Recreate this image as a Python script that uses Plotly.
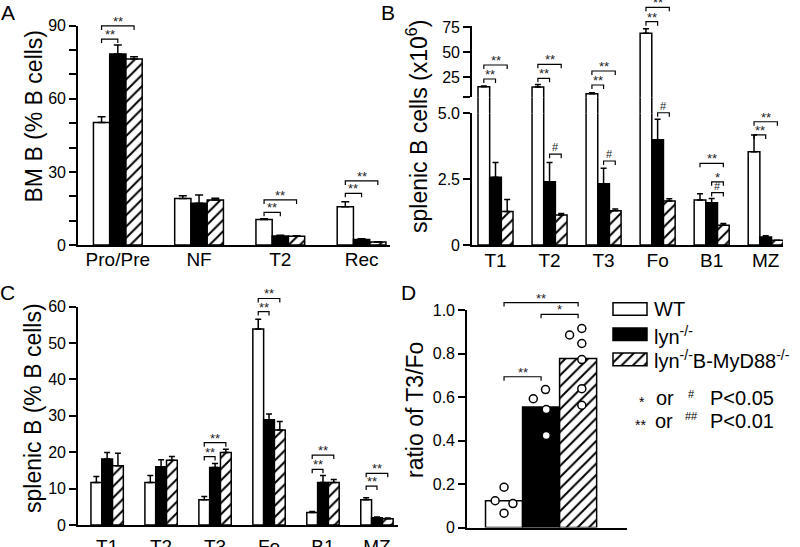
import plotly.graph_objects as go

W, H = 800, 547
FONT = "Liberation Sans, Arial, Helvetica, sans-serif"

series = ["WT", "lyn-/-", "lyn-/-B-MyD88-/-"]

# ---------------- Panel A : BM B (% B cells)
a_cats = ["Pro/Pre", "NF", "T2", "Rec"]
a_wt = [50.3, 19.1, 10.5, 15.7]
a_wt_err = [2.3, 1.1, 0.3, 2.1]
a_lyn = [78.4, 17.1, 3.7, 2.3]
a_lyn_err = [3.7, 3.4, 0.3, 0.3]
a_dko = [76.3, 18.5, 3.6, 1.2]
a_dko_err = [1.0, 0.7, 0.2, 0.1]
a_tickvals = [0, 10, 20, 30, 40, 50, 60, 70, 80, 90]
a_ticktext = ["0", "", "", "30", "", "", "60", "", "", "90"]

# ---------------- Panel B : splenic B cells (x10^6)
b_cats = ["T1", "T2", "T3", "Fo", "B1", "MZ"]
b_wt = [15.5, 15.3, 8.6, 69.0, 1.71, 3.54]
b_wt_err = [0.8, 2.5, 1.0, 4.6, 0.24, 0.64]
b_lyn = [2.57, 2.40, 2.33, 4.00, 1.60, 0.30]
b_lyn_err = [0.56, 0.73, 0.58, 0.77, 0.17, 0.05]
b_dko = [1.27, 1.14, 1.30, 1.67, 0.75, 0.18]
b_dko_err = [0.46, 0.06, 0.07, 0.09, 0.07, 0.0]
b_low_tickvals = [0, 2.5, 5]
b_low_ticktext = ["0", "2.5", "5.0"]
b_high_tickvals = [5, 25, 50, 75]
b_high_ticktext = ["", "25", "50", "75"]

# ---------------- Panel C : splenic B (% B cells)
c_cats = ["T1", "T2", "T3", "Fo", "B1", "MZ"]
c_wt = [11.7, 11.7, 6.9, 53.8, 3.4, 6.9]
c_wt_err = [1.6, 1.9, 0.9, 2.7, 0.3, 0.6]
c_lyn = [18.1, 16.0, 15.8, 28.9, 11.7, 2.0]
c_lyn_err = [1.8, 1.9, 1.1, 1.6, 1.9, 0.2]
c_dko = [16.3, 17.8, 19.9, 26.1, 11.7, 1.7]
c_dko_err = [3.4, 1.0, 0.9, 2.3, 0.8, 0.2]
c_tickvals = [0, 10, 20, 30, 40, 50, 60]

# ---------------- Panel D : ratio of T3/Fo
d_means = [0.123, 0.554, 0.777]
d_points = [
    [0.185, 0.123, 0.110, 0.066],
    [0.592, 0.634, 0.542, 0.423],
    [0.885, 0.915, 0.846, 0.772, 0.638, 0.562],
]
d_jitter = [
    [0.0, -0.24, 0.24, 0.0],
    [-0.21, 0.12, 0.14, 0.14],
    [-0.23, 0.10, 0.10, 0.10, 0.10, 0.10],
]
d_tickvals = [0, 0.2, 0.4, 0.6, 0.8, 1.0]
d_ticktext = ["0", "0.2", "0.4", "0.6", "0.8", "1.0"]

# significance brackets: (category index, from series, to series, level, label)
sig_A = [(0, 0, 1, 84.5, "**"), (0, 0, 2, 89.9, "**"), (2, 0, 1, 13.4, "**"),
         (2, 0, 2, 18.5, "**"), (3, 0, 1, 21.2, "**"), (3, 0, 2, 26.3, "**")]
sig_B_high = [(0, 0, 1, 23.3, "**"), (0, 0, 2, 37.3, "**"), (1, 0, 1, 24.0, "**"),
              (1, 0, 2, 38.0, "**"), (2, 0, 1, 17.3, "**"), (2, 0, 2, 31.3, "**"),
              (3, 0, 1, 80.6, "**"), (3, 0, 2, 95.0, "**")]
sig_B_low = [(1, 1, 2, 3.45, "#"), (2, 1, 2, 3.19, "#"), (3, 1, 2, 5.02, "#"),
             (4, 0, 2, 3.10, "**"), (4, 1, 2, 2.40, "*"), (4, 1, 2, 1.99, "#"),
             (5, 0, 1, 4.18, "**"), (5, 0, 2, 4.68, "**")]
sig_C = [(2, 0, 1, 18.8, "**"), (2, 0, 2, 22.6, "**"), (3, 0, 1, 58.6, "**"),
         (3, 0, 2, 62.2, "**"), (4, 0, 1, 15.3, "**"), (4, 0, 2, 19.2, "**"),
         (5, 0, 1, 10.7, "**"), (5, 0, 2, 14.2, "**")]
sig_D = [(0, 2, 1.034, "**"), (1, 2, 0.98, "*"), (0, 1, 0.693, "**")]


def px_x(p):
    return p / W


def px_y(p):
    return 1 - p / H


# panel geometry (paper domains and axis ranges)
P = {
    "A": dict(x="x", y="y", xd=[px_x(78), px_x(390)], yd=[px_y(245), px_y(25.7)],
              xr=[-0.49, 3.35], yr=[0, 90], bw=0.2, cap=4, lab_off=-4),
    "Blow": dict(x="x2", y="y2", xd=[px_x(472), px_x(783)], yd=[px_y(245), px_y(113.3)],
                 xr=[-0.435, 5.32], yr=[0, 5], bw=0.216, cap=3, lab_off=-3),
    "Bgap": dict(x="x3", y="y3", xd=[px_x(472), px_x(783)], yd=[px_y(113.3), px_y(97.3)],
                 xr=[-0.435, 5.32], yr=[5, 6], bw=0.216, cap=3, lab_off=0),
    "Bhigh": dict(x="x4", y="y4", xd=[px_x(472), px_x(783)], yd=[px_y(97.3), px_y(25.7)],
                  xr=[-0.435, 5.32], yr=[5, 76.6], bw=0.216, cap=3, lab_off=0),
    "C": dict(x="x5", y="y5", xd=[px_x(78), px_x(398)], yd=[px_y(525), px_y(306.5)],
              xr=[-0.54, 5.39], yr=[0, 60], bw=0.2, cap=3, lab_off=3),
    "D": dict(x="x6", y="y6", xd=[px_x(467), px_x(627)], yd=[px_y(527.5), px_y(310)],
              xr=[-1.0, 3.32], yr=[0, 1.0], bw=1.0, cap=3, lab_off=0),
}


def to_paper(pn, xv, yv):
    g = P[pn]
    xd, yd, xr, yr = g["xd"], g["yd"], g["xr"], g["yr"]
    px = xd[0] + (xv - xr[0]) / (xr[1] - xr[0]) * (xd[1] - xd[0])
    py = yd[0] + (yv - yr[0]) / (yr[1] - yr[0]) * (yd[1] - yd[0])
    return px, py


LW = 1.5
STY = [
    dict(color="white", line=dict(color="black", width=LW)),
    dict(color="black", line=dict(color="black", width=LW)),
    dict(color="white", line=dict(color="black", width=LW),
         pattern=dict(shape="/", fgcolor="black", bgcolor="white", size=8,
                      solidity=0.25, fgopacity=1)),
]

fig = go.Figure()


def add_groups(pn, cats, vals, errs, show_err=True, only_above=False):
    g = P[pn]
    w = g["bw"]
    lo = g["yr"][0]
    for k in range(3):
        # for the upper (broken) axis segments keep only bars reaching into them
        keep = [(vi > lo) or not only_above for vi in vals[k]]
        v = [vi if kp else None for vi, kp in zip(vals[k], keep)]
        e = [ei if (kp and vi > lo) else None for vi, ei, kp in zip(vals[k], errs[k], keep)]
        fig.add_trace(go.Bar(
            x=cats, y=v, width=w, offset=-1.5 * w + k * w,
            marker=STY[k], name=series[k], showlegend=False,
            error_y=dict(type="data", symmetric=False, array=e,
                         arrayminus=[0] * len(e), color="black",
                         thickness=1.5, width=g["cap"], visible=show_err),
            xaxis=g["x"], yaxis=g["y"]))


add_groups("A", a_cats, [a_wt, a_lyn, a_dko], [a_wt_err, a_lyn_err, a_dko_err])
add_groups("Blow", b_cats, [b_wt, b_lyn, b_dko], [b_wt_err, b_lyn_err, b_dko_err])
add_groups("Bgap", b_cats, [b_wt, b_lyn, b_dko], [b_wt_err, b_lyn_err, b_dko_err],
           show_err=False, only_above=True)
add_groups("Bhigh", b_cats, [b_wt, b_lyn, b_dko], [b_wt_err, b_lyn_err, b_dko_err],
           only_above=True)
add_groups("C", c_cats, [c_wt, c_lyn, c_dko], [c_wt_err, c_lyn_err, c_dko_err])

# Panel D bars + points
for k in range(3):
    fig.add_trace(go.Bar(x=[k], y=[d_means[k]], width=1.0, marker=STY[k],
                         name=series[k], showlegend=False, xaxis="x6", yaxis="y6"))
for k in range(3):
    fig.add_trace(go.Scatter(
        x=[k + j for j in d_jitter[k]], y=d_points[k], mode="markers",
        marker=dict(symbol="circle", size=8, color="white",
                    line=dict(color="black", width=1.5)),
        showlegend=False, xaxis="x6", yaxis="y6"))

# Legend keys (hidden-axis subplot)
leg_x0, leg_x1 = px_x(613 - 1.7), px_x(647 + 1.7)
leg_y0, leg_y1 = px_y(372), px_y(296.5)
for k in range(3):
    fig.add_trace(go.Bar(x=[1], y=[k], base=0, orientation="h", width=0.5,
                         marker=dict(STY[k]), showlegend=False,
                         xaxis="x7", yaxis="y7"))

shapes = []
annotations = []


def bracket(pn, pos, lvl, label):
    x1, y = to_paper(pn, pos[0], lvl)
    x2, _ = to_paper(pn, pos[1], lvl)
    leg = 4.0 / H
    shapes.append(dict(type="path", xref="paper", yref="paper",
                       path=f"M {x1},{y - leg} L {x1},{y} L {x2},{y} L {x2},{y - leg}",
                       line=dict(color="black", width=1.2)))
    if label.startswith("*"):
        size, ysh = 13, -5
    else:
        size, ysh = 11, -1
    annotations.append(dict(x=(x1 + x2) / 2, y=y, xref="paper", yref="paper",
                            text=label, showarrow=False, xanchor="center",
                            yanchor="bottom", yshift=ysh,
                            font=dict(size=size, color="#222", family=FONT)))


def bar_center(pn, ci, k):
    w = P[pn]["bw"]
    return ci - 1.5 * w + k * w + w / 2


for pn, lst in [("A", sig_A), ("Bhigh", sig_B_high), ("Blow", sig_B_low), ("C", sig_C)]:
    for ci, s1, s2, lvl, lab in lst:
        bracket(pn, (bar_center(pn, ci, s1), bar_center(pn, ci, s2)), lvl, lab)
for s1, s2, lvl, lab in sig_D:
    bracket("D", (s1, s2), lvl, lab)

# axis titles
titles = [
    ("BM B (% B cells)", 33, 116.5),
    ("splenic B cells (x10<sup>6</sup>)", 417, 127),
    ("splenic B (% B cells)", 33, 408),
    ("ratio of T3/Fo", 415, 410),
]
for t, x, y in titles:
    annotations.append(dict(x=px_x(x), y=px_y(y), xref="paper", yref="paper", text=t,
                            textangle=-90, showarrow=False, xanchor="center", yanchor="middle",
                            font=dict(size=23, color="black", family=FONT)))

# panel letters
for t, x, y in [("A", 7.5, 12.5), ("B", 388, 12.5), ("C", 7.5, 292.5), ("D", 408, 292.5)]:
    annotations.append(dict(x=px_x(x), y=px_y(y), xref="paper", yref="paper", text=t,
                            showarrow=False, xanchor="center", yanchor="middle",
                            font=dict(size=21, color="black", family=FONT)))

# legend labels
leg_labels = ["WT", "lyn<sup>-/-</sup>", "lyn<sup>-/-</sup>B-MyD88<sup>-/-</sup>"]
for lab, y in zip(leg_labels, [309, 335, 359.5]):
    annotations.append(dict(x=px_x(652), y=px_y(y), xref="paper", yref="paper", text=lab,
                            showarrow=False, xanchor="left", yanchor="middle",
                            font=dict(size=20, color="black", family=FONT)))

# p-value key
key = [
    ("*", 642, 398, 14, "center"), ("or", 665, 398, 20, "center"),
    ("#", 691, 394, 11, "center"), ("P&lt;0.05", 708, 398, 20, "left"),
    ("**", 640, 421, 14, "center"), ("or", 664, 421, 20, "center"),
    ("##", 691, 416, 11, "center"), ("P&lt;0.01", 708, 421, 20, "left"),
]
for t, x, y, s, xa in key:
    annotations.append(dict(x=px_x(x), y=px_y(y), xref="paper", yref="paper", text=t,
                            showarrow=False, xanchor=xa, yanchor="middle",
                            yshift=(-4 if t.startswith("*") else 0),
                            font=dict(size=s, color="black", family=FONT)))


def yaxis(pn, tickvals, ticktext, showline=True):
    g = P[pn]
    return dict(domain=g["yd"], range=g["yr"], anchor=g["x"], tickmode="array",
                tickvals=tickvals, ticktext=ticktext, showline=showline,
                linecolor="black", linewidth=1.6, ticks="outside", ticklen=7,
                tickwidth=1.5, tickcolor="black", showgrid=False, zeroline=False,
                automargin=False,
                tickfont=dict(size=16, color="black", family=FONT), fixedrange=True)


def xaxis(pn, cats=None, showline=True, labels=True):
    g = P[pn]
    d = dict(domain=g["xd"], range=g["xr"], anchor=g["y"], showline=showline,
             linecolor="black", linewidth=1.6, ticks="", showgrid=False,
             zeroline=False, fixedrange=True, automargin=False,
             ticklabelstandoff=g["lab_off"],
             tickfont=dict(size=19, color="black", family=FONT))
    if cats is not None:
        d.update(type="category", categoryorder="array", categoryarray=cats,
                 showticklabels=labels)
    else:
        d.update(showticklabels=False)
    return d


layout = dict(
    width=W, height=H, autosize=False,
    margin=dict(l=0, r=0, t=0, b=0, pad=0, autoexpand=False),
    paper_bgcolor="white", plot_bgcolor="white", barmode="overlay",
    showlegend=False, font=dict(family=FONT, color="black"),
    xaxis=xaxis("A", a_cats), yaxis=yaxis("A", a_tickvals, a_ticktext),
    xaxis2=xaxis("Blow", b_cats), yaxis2=yaxis("Blow", b_low_tickvals, b_low_ticktext),
    xaxis3=dict(xaxis("Bgap", b_cats), visible=False),
    yaxis3=dict(yaxis("Bgap", [], []), visible=False),
    xaxis4=xaxis("Bhigh", b_cats, showline=False, labels=False),
    yaxis4=yaxis("Bhigh", b_high_tickvals, b_high_ticktext),
    xaxis5=xaxis("C", c_cats), yaxis5=yaxis("C", c_tickvals, [str(v) for v in c_tickvals]),
    xaxis6=xaxis("D"), yaxis6=yaxis("D", d_tickvals, d_ticktext),
    xaxis7=dict(domain=[leg_x0, leg_x1], range=[-0.05, 1.05], anchor="y7", visible=False,
                fixedrange=True),
    yaxis7=dict(domain=[leg_y0, leg_y1], range=[2.5, -0.5], anchor="x7", visible=False,
                fixedrange=True),
    shapes=shapes, annotations=annotations,
)
fig.update_layout(**layout)
fig.write_html("out.html", config={"displayModeBar": False},
               post_script="document.body.style.margin='0';document.body.style.overflow='hidden';")
